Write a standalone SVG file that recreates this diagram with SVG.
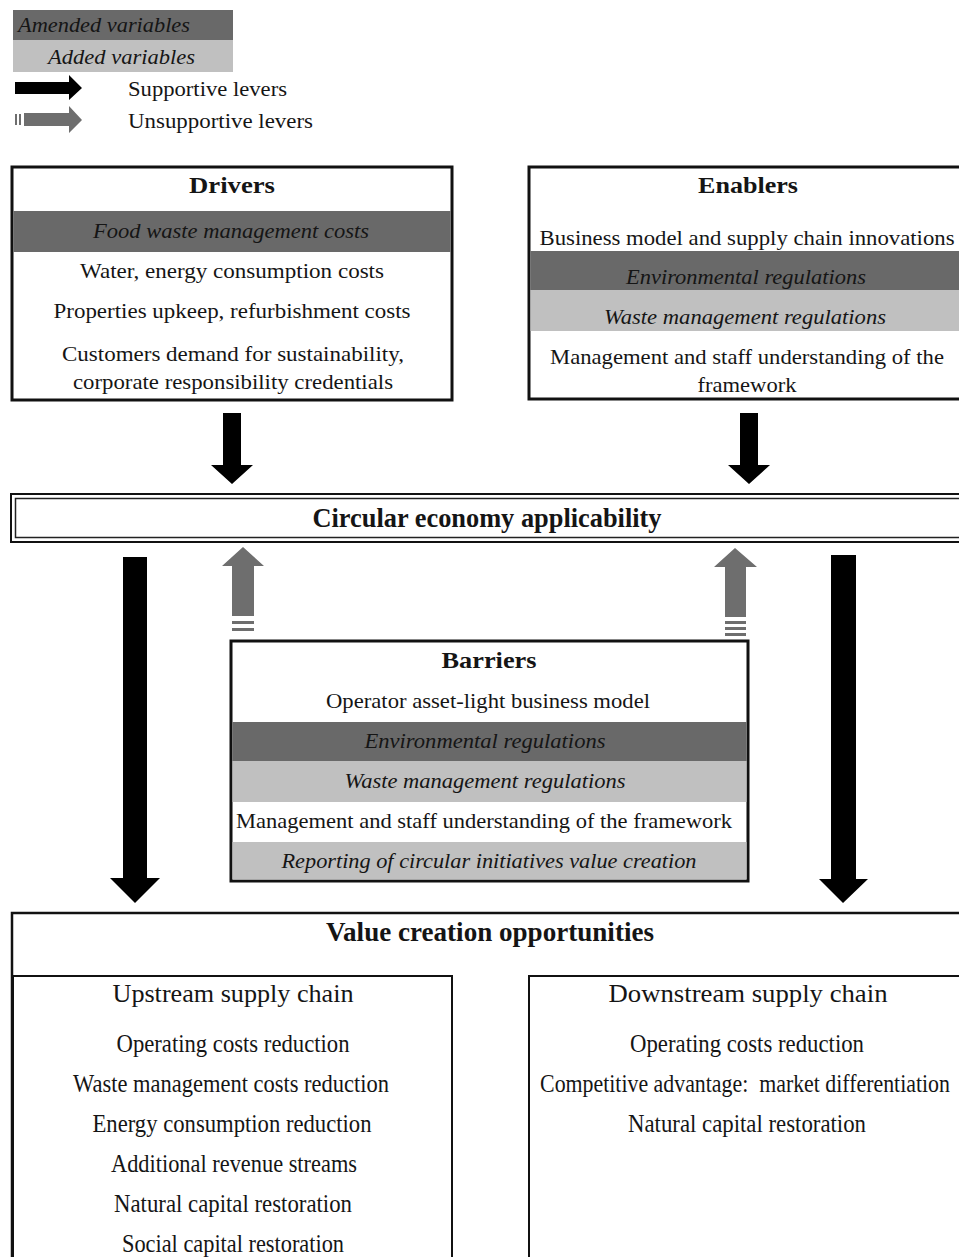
<svg xmlns="http://www.w3.org/2000/svg" width="959" height="1257" viewBox="0 0 959 1257">
<style>
.t{font-family:"Liberation Serif","Times New Roman",serif;font-size:22px;fill:#151515;text-anchor:middle}
.l{text-anchor:start}
.b{font-weight:bold;font-size:24px}
.i{font-style:italic}
.c{font-size:25px}
.cb{font-weight:bold;font-size:27px}
.box{fill:#fff;stroke:#111;stroke-width:3}
.thin{fill:none;stroke:#111;stroke-width:2}
.dark{fill:#696969}
.light{fill:#c0c0c0}
.blk{fill:#000}
.gry{fill:#6e6e6e}
</style>
<rect width="959" height="1257" fill="#fff"/>

<g id="legend">
<rect x="13" y="10" width="220" height="30" class="dark"/>
<rect x="13" y="40" width="220" height="32" class="light"/>
<text x="18" y="32" class="t l i" textLength="172" lengthAdjust="spacingAndGlyphs">Amended variables</text>
<text x="48" y="64" class="t l i" textLength="147" lengthAdjust="spacingAndGlyphs">Added variables</text>
<path d="M15,82 L69,82 L69,75 L82,88 L69,100 L69,94 L15,94 Z" class="blk"/>
<text x="128" y="96" class="t l" textLength="159" lengthAdjust="spacingAndGlyphs">Supportive levers</text>
<rect x="15" y="114" width="2" height="11" class="gry"/>
<rect x="19" y="114" width="2" height="11" class="gry"/>
<path d="M24,113 L69,113 L69,106 L82,120 L69,133 L69,126 L24,126 Z" class="gry"/>
<text x="128" y="128" class="t l" textLength="185" lengthAdjust="spacingAndGlyphs">Unsupportive levers</text>
</g>

<g id="drivers">
<rect x="12" y="167" width="440" height="233" class="box"/>
<rect x="13.5" y="211" width="437" height="41" class="dark"/>
<text x="232" y="193" class="t b" textLength="86" lengthAdjust="spacingAndGlyphs">Drivers</text>
<text x="231" y="238" class="t i" textLength="276" lengthAdjust="spacingAndGlyphs">Food waste management costs</text>
<text x="232" y="278" class="t" textLength="304" lengthAdjust="spacingAndGlyphs">Water, energy consumption costs</text>
<text x="232" y="318" class="t" textLength="357" lengthAdjust="spacingAndGlyphs">Properties upkeep, refurbishment costs</text>
<text x="233" y="361" class="t" textLength="342" lengthAdjust="spacingAndGlyphs">Customers demand for sustainability,</text>
<text x="233" y="389" class="t" textLength="320" lengthAdjust="spacingAndGlyphs">corporate responsibility credentials</text>
</g>

<g id="enablers">
<rect x="529" y="167" width="440" height="232" class="box"/>
<rect x="530.5" y="251" width="430" height="39" class="dark"/>
<rect x="530.5" y="290" width="430" height="41" class="light"/>
<text x="748" y="193" class="t b" textLength="100" lengthAdjust="spacingAndGlyphs">Enablers</text>
<text x="747" y="245" class="t" textLength="415" lengthAdjust="spacingAndGlyphs">Business model and supply chain innovations</text>
<text x="746" y="284" class="t i" textLength="240" lengthAdjust="spacingAndGlyphs">Environmental regulations</text>
<text x="745" y="324" class="t i" textLength="282" lengthAdjust="spacingAndGlyphs">Waste management regulations</text>
<text x="747" y="364" class="t" textLength="394" lengthAdjust="spacingAndGlyphs">Management and staff understanding of the</text>
<text x="747" y="392" class="t" textLength="99" lengthAdjust="spacingAndGlyphs">framework</text>
</g>

<g id="circular">
<rect x="11" y="494" width="960" height="48" fill="#fff" stroke="#111" stroke-width="2"/>
<rect x="15.5" y="498.5" width="960" height="39" fill="none" stroke="#222" stroke-width="1.5"/>
<text x="487" y="527" class="t cb" textLength="349" lengthAdjust="spacingAndGlyphs">Circular economy applicability</text>
</g>

<g id="barriers">
<rect x="231" y="641" width="517" height="240" class="box"/>
<rect x="232.5" y="722" width="514" height="39" class="dark"/>
<rect x="232.5" y="761" width="514" height="41" class="light"/>
<rect x="232.5" y="842" width="514" height="37.5" class="light"/>
<text x="489" y="668" class="t b" textLength="95" lengthAdjust="spacingAndGlyphs">Barriers</text>
<text x="488" y="708" class="t" textLength="324" lengthAdjust="spacingAndGlyphs">Operator asset-light business model</text>
<text x="485" y="748" class="t i" textLength="241" lengthAdjust="spacingAndGlyphs">Environmental regulations</text>
<text x="485" y="788" class="t i" textLength="281" lengthAdjust="spacingAndGlyphs">Waste management regulations</text>
<text x="484" y="828" class="t" textLength="496" lengthAdjust="spacingAndGlyphs">Management and staff understanding of the framework</text>
<text x="489" y="868" class="t i" textLength="415" lengthAdjust="spacingAndGlyphs">Reporting of circular initiatives value creation</text>
</g>

<g id="value">
<rect x="12" y="913" width="960" height="360" fill="#fff" stroke="#111" stroke-width="2.5"/>
<text x="490" y="941" class="t cb" textLength="328" lengthAdjust="spacingAndGlyphs">Value creation opportunities</text>
</g>

<g id="upstream">
<rect x="13" y="976" width="439" height="300" class="thin"/>
<text x="233" y="1002" class="t c" textLength="241" lengthAdjust="spacingAndGlyphs">Upstream supply chain</text>
<text x="233" y="1052" class="t c" textLength="233" lengthAdjust="spacingAndGlyphs">Operating costs reduction</text>
<text x="231" y="1092" class="t c" textLength="316" lengthAdjust="spacingAndGlyphs">Waste management costs reduction</text>
<text x="232" y="1132" class="t c" textLength="279" lengthAdjust="spacingAndGlyphs">Energy consumption reduction</text>
<text x="234" y="1172" class="t c" textLength="246" lengthAdjust="spacingAndGlyphs">Additional revenue streams</text>
<text x="233" y="1212" class="t c" textLength="238" lengthAdjust="spacingAndGlyphs">Natural capital restoration</text>
<text x="233" y="1252" class="t c" textLength="222" lengthAdjust="spacingAndGlyphs">Social capital restoration</text>
</g>

<g id="downstream">
<rect x="529" y="976" width="440" height="300" class="thin"/>
<text x="748" y="1002" class="t c" textLength="279" lengthAdjust="spacingAndGlyphs">Downstream supply chain</text>
<text x="747" y="1052" class="t c" textLength="234" lengthAdjust="spacingAndGlyphs">Operating costs reduction</text>
<text transform="translate(745,1092) scale(0.874,1)" x="0" y="0" class="t c" xml:space="preserve" textLength="469" lengthAdjust="spacingAndGlyphs">Competitive advantage:  market differentiation</text>
<text x="747" y="1132" class="t c" textLength="238" lengthAdjust="spacingAndGlyphs">Natural capital restoration</text>
</g>

<g id="connectors">
<path d="M223,413 L241,413 L241,465 L253,465 L232,484 L211,465 L223,465 Z" class="blk"/>
<path d="M740,413 L758,413 L758,465 L770,465 L749,484 L728,465 L740,465 Z" class="blk"/>
<path d="M123,557 L147,557 L147,878 L160,878 L135,903 L110,878 L123,878 Z" class="blk"/>
<path d="M831,555 L856,555 L856,879 L868,879 L843,903 L819,879 L831,879 Z" class="blk"/>
<path d="M243,547 L264,566 L254,566 L254,616 L232,616 L232,566 L222,566 Z" class="gry"/>
<rect x="232" y="621" width="22" height="3" class="gry"/>
<rect x="232" y="628" width="22" height="3" class="gry"/>
<path d="M735,548 L757,567 L746,567 L746,617 L725,617 L725,567 L714,567 Z" class="gry"/>
<rect x="725" y="621" width="21" height="3" class="gry"/>
<rect x="725" y="627" width="21" height="3" class="gry"/>
<rect x="725" y="633" width="21" height="3" class="gry"/>
</g>
</svg>
